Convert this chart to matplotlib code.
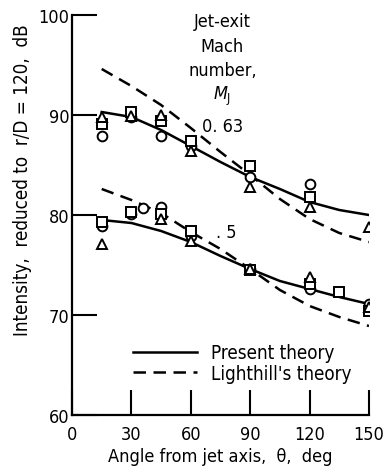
import matplotlib
matplotlib.use("Agg")
import matplotlib.pyplot as plt
from matplotlib.lines import Line2D

plt.rcParams['font.family'] = ['DejaVu Sans']
plt.rcParams['font.stretch'] = 'condensed'
plt.rcParams['mathtext.fontset'] = 'custom'
plt.rcParams['mathtext.it'] = 'DejaVu Sans:italic'

# theory curves (angle, dB)
theta = [15, 30, 45, 60, 75, 90, 105, 120, 135, 150]
present_063 = [90.3, 89.8, 88.5, 86.9, 85.3, 83.8, 82.6, 81.3, 80.5, 80.0]
light_063 = [94.6, 92.9, 91.0, 88.7, 86.3, 84.0, 81.6, 79.6, 78.2, 77.3]
present_05 = [79.5, 79.2, 78.4, 77.3, 75.9, 74.6, 73.4, 72.6, 71.8, 71.1]
light_05 = [82.6, 81.5, 80.2, 78.3, 76.6, 74.6, 72.5, 70.9, 69.8, 68.9]

# measured points, M = 0.63
circ_x_063 = [15, 30, 45, 60, 90, 120]
circ_y_063 = [87.9, 89.8, 87.9, 86.9, 83.8, 83.1]
sq_x_063 = [15, 30, 45, 60, 90, 120]
sq_y_063 = [89.1, 90.3, 89.4, 87.4, 84.9, 81.8]
tri_x_063 = [15, 30, 45, 60, 90, 120, 150]
tri_y_063 = [89.8, 89.9, 90.0, 86.4, 82.8, 80.8, 78.8]

# measured points, M = 0.5
circ_x_05 = [15, 30, 36, 45, 60, 90, 120, 150]
circ_y_05 = [78.9, 80.1, 80.7, 80.8, 77.9, 74.6, 72.6, 71.1]
sq_x_05 = [15, 30, 45, 60, 90, 120, 135, 150]
sq_y_05 = [79.3, 80.3, 80.1, 78.4, 74.5, 73.1, 72.3, 70.4]
tri_x_05 = [15, 45, 60, 90, 120, 150]
tri_y_05 = [77.1, 79.6, 77.4, 74.6, 73.8, 70.8]

xticks = [0, 30, 60, 90, 120, 150]
yticks = [60, 70, 80, 90, 100]

fig = plt.figure(figsize=(3.84, 4.77), dpi=100)
ax = fig.add_axes([72/384, 61/477, 297/384, 400/477])

lw = 1.8
for y in (present_063, present_05):
    ax.plot(theta, y, color='black', lw=lw)
for y in (light_063, light_05):
    ax.plot(theta, y, color='black', lw=lw, dashes=(5, 3))

mk = dict(linestyle='none', mfc='white', mec='black', mew=1.4, ms=7)
ax.plot(circ_x_063, circ_y_063, marker='o', **mk)
ax.plot(sq_x_063, sq_y_063, marker='s', **mk)
ax.plot(tri_x_063, tri_y_063, marker='^', **mk)
ax.plot(circ_x_05, circ_y_05, marker='o', **mk)
ax.plot(sq_x_05, sq_y_05, marker='s', **mk)
ax.plot(tri_x_05, tri_y_05, marker='^', **mk)

ax.set_xlim(0, 150)
ax.set_ylim(60, 100)
ax.set_xticks(xticks)
ax.set_yticks(yticks)
ax.tick_params(direction='in', length=18, width=1.5, labelsize=13)
ax.tick_params(axis='x', pad=7)
ax.tick_params(axis='y', pad=2)
for s in ('top', 'right'):
    ax.spines[s].set_visible(False)
for s in ('left', 'bottom'):
    ax.spines[s].set_linewidth(1.6)

ax.set_xlabel('Angle from jet axis,  θ,  deg', fontsize=13, labelpad=3)
ax.set_ylabel('Intensity,  reduced to  r/D = 120,  dB', fontsize=13.5)
ax.yaxis.set_label_coords(-0.135, 0.59)

fs = 13
ax.text(76, 99.4, 'Jet-exit', ha='center', va='center', fontsize=fs)
ax.text(76, 96.9, 'Mach', ha='center', va='center', fontsize=fs)
ax.text(76, 94.5, 'number,', ha='center', va='center', fontsize=fs)
ax.text(76, 92.0, r'$M_{\mathrm{J}}$', ha='center', va='center', fontsize=fs)
ax.text(76, 88.9, '0. 63', ha='center', va='center', fontsize=fs)
ax.text(78, 78.3, '. 5', ha='center', va='center', fontsize=fs)

handles = [Line2D([], [], color='black', lw=lw),
           Line2D([], [], color='black', lw=lw, dashes=(5, 3))]
ax.legend(handles, ['Present theory', "Lighthill's theory"],
          loc='lower left', bbox_to_anchor=(0.205, 0.08), frameon=False,
          fontsize=13.5, handlelength=3.4, handletextpad=0.75,
          labelspacing=0.1, borderpad=0, borderaxespad=0)

fig.savefig('out.png', dpi=100)
